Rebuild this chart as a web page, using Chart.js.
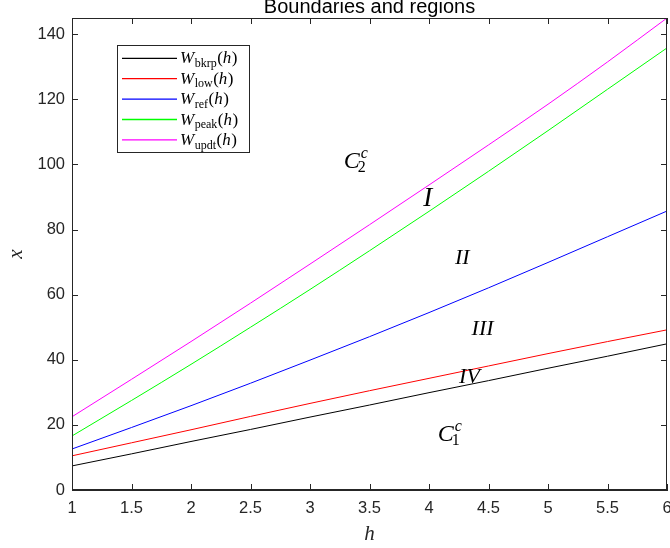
<!DOCTYPE html>
<html>
<head>
<meta charset="utf-8">
<script src="https://cdn.jsdelivr.net/npm/chart.js@4.4.0/dist/chart.umd.min.js"></script>
<style>
  html, body { margin: 0; padding: 0; background: #fff; }
  #wrap { width: 670px; height: 548px; }
</style>
</head>
<body>
<div id="wrap"><canvas id="chart" width="670" height="548"></canvas></div>
<script>
// --- data ---
const hValues = [1, 1.5, 2, 2.5, 3, 3.5, 4, 4.5, 5, 5.5, 6];
const wBkrp = [7.4, 11.1, 14.9, 18.6, 22.4, 26.1, 29.9, 33.6, 37.4, 41.1, 44.9];
const wLow  = [10.5, 14.5, 18.5, 22.6, 26.6, 30.5, 34.3, 38.1, 41.9, 45.6, 49.2];
const wRef  = [12.6, 19.2, 25.9, 32.8, 39.9, 47.1, 54.5, 62.1, 69.9, 77.8, 85.7];
const wPeak = [16.6, 27.5, 38.6, 50.0, 61.6, 73.5, 85.6, 97.9, 110.4, 123.1, 135.8];
const wUpdt = [22.5, 34.0, 45.6, 57.4, 69.4, 81.5, 93.7, 106.0, 118.5, 131.5, 145.0];

const seriesSubs = ["bkrp", "low", "ref", "peak", "updt"];
const seriesColors = ["#000000", "#ff0000", "#0000ff", "#00ff00", "#ff00ff"];
const xTickLabels = ["1", "1.5", "2", "2.5", "3", "3.5", "4", "4.5", "5", "5.5", "6"];
const yTickLabels = ["0", "20", "40", "60", "80", "100", "120", "140"];

// region labels: text, subscript, superscript, h, x, font size
const regionLabels = [
  { text: "C", sub: "2", sup: "c", h: 3.35, x: 100.8, size: 24 },
  { text: "I", h: 3.99, x: 89.4, size: 27 },
  { text: "II", h: 4.28, x: 71.3, size: 22 },
  { text: "III", h: 4.45, x: 49.5, size: 22 },
  { text: "IV", h: 4.34, x: 34.7, size: 22 },
  { text: "C", sub: "1", sup: "c", h: 4.14, x: 16.9, size: 24 }
];

const serif = "'Liberation Serif', 'DejaVu Serif', serif";
const sans = "'Liberation Sans', Arial, sans-serif";
const axisColor = "#262626";

const allSeries = [wBkrp, wLow, wRef, wPeak, wUpdt];
const datasets = allSeries.map((arr, i) => ({
  label: "W_" + seriesSubs[i] + "(h)",
  data: hValues.map((h, j) => ({ x: h, y: arr[j] })),
  borderColor: seriesColors[i],
  borderWidth: 1,
  pointRadius: 0,
  fill: false,
  cubicInterpolationMode: "monotone"
}));

function drawW(ctx, x, y, sub, size) {
  ctx.textAlign = "left";
  ctx.textBaseline = "alphabetic";
  ctx.font = "italic " + size + "px " + serif;
  ctx.fillText("W", x, y);
  x += ctx.measureText("W").width + 0.5;
  const s = Math.round(size * 0.7);
  ctx.font = s + "px " + serif;
  ctx.fillText(sub, x, y + size * 0.22);
  x += ctx.measureText(sub).width + 0.5;
  ctx.font = size + "px " + serif;
  ctx.fillText("(", x, y);
  x += ctx.measureText("(").width;
  ctx.font = "italic " + size + "px " + serif;
  ctx.fillText("h", x, y);
  x += ctx.measureText("h").width + 0.5;
  ctx.font = size + "px " + serif;
  ctx.fillText(")", x, y);
}

const decorPlugin = {
  id: "decor",
  afterDatasetsDraw(chart) {
    const ctx = chart.ctx;
    const a = chart.chartArea;
    const xs = chart.scales.x, ys = chart.scales.y;
    ctx.save();

    // box + inward ticks
    ctx.strokeStyle = axisColor;
    ctx.lineWidth = 1;
    ctx.strokeRect(Math.round(a.left) + 0.5, Math.round(a.top) + 0.5,
      Math.round(a.right - a.left) - 1, Math.round(a.bottom - a.top) - 1);
    const tl = 6;
    ctx.beginPath();
    xs.ticks.forEach(t => {
      const px = Math.round(xs.getPixelForValue(t.value)) + 0.5;
      ctx.moveTo(px, a.bottom); ctx.lineTo(px, a.bottom - tl);
      ctx.moveTo(px, a.top); ctx.lineTo(px, a.top + tl);
    });
    ys.ticks.forEach(t => {
      const py = Math.round(ys.getPixelForValue(t.value)) + 0.5;
      ctx.moveTo(a.left, py); ctx.lineTo(a.left + tl, py);
      ctx.moveTo(a.right, py); ctx.lineTo(a.right - tl, py);
    });
    ctx.stroke();

    // title
    ctx.fillStyle = "#000";
    ctx.font = "20px " + sans;
    ctx.textAlign = "center";
    ctx.textBaseline = "alphabetic";
    ctx.fillText("Boundaries and regions", (a.left + a.right) / 2, 13);

    // axis titles
    ctx.font = "italic 21px " + serif;
    ctx.fillStyle = axisColor;
    ctx.fillText("h", (a.left + a.right) / 2, 540);
    ctx.save();
    ctx.translate(22, (a.top + a.bottom) / 2);
    ctx.rotate(-Math.PI / 2);
    ctx.fillText("x", 0, 0);
    ctx.restore();

    // legend
    const lx = 117, ly = 45, lw = 132, lh = 107;
    ctx.fillStyle = "#fff";
    ctx.fillRect(lx, ly, lw, lh);
    ctx.strokeStyle = axisColor;
    ctx.strokeRect(lx + 0.5, ly + 0.5, lw, lh);
    chart.data.datasets.forEach((ds, i) => {
      const rowY = 58.3 + i * 20.4;
      ctx.strokeStyle = ds.borderColor;
      ctx.lineWidth = 1.3;
      ctx.beginPath();
      ctx.moveTo(122, rowY);
      ctx.lineTo(177, rowY);
      ctx.stroke();
      ctx.fillStyle = "#000";
      drawW(ctx, 180, rowY + 5, seriesSubs[i], 17);
    });

    // region labels
    ctx.fillStyle = "#000";
    regionLabels.forEach(r => {
      const px = xs.getPixelForValue(r.h);
      const py = ys.getPixelForValue(r.x);
      ctx.textBaseline = "middle";
      ctx.textAlign = "center";
      ctx.font = "italic " + r.size + "px " + serif;
      ctx.fillText(r.text, px, py);
      if (r.sub) {
        const s = Math.round(r.size * 0.68);
        ctx.textAlign = "left";
        ctx.font = s + "px " + serif;
        ctx.fillText(r.sub, px + 6, py + 6);
        ctx.font = "italic " + s + "px " + serif;
        ctx.fillText(r.sup, px + 9, py - 8);
      }
    });
    ctx.restore();
  }
};

new Chart(document.getElementById("chart"), {
  type: "line",
  data: { datasets: datasets },
  options: {
    responsive: false,
    animation: false,
    devicePixelRatio: 1,
    layout: { padding: { top: 18, right: 3, bottom: 0, left: 0 } },
    plugins: { legend: { display: false }, title: { display: false }, tooltip: { enabled: false } },
    scales: {
      x: {
        type: "linear",
        min: 1, max: 6,
        grid: { display: false, drawTicks: false },
        border: { display: true, color: axisColor },
        ticks: {
          stepSize: 0.5, includeBounds: false, maxRotation: 0, autoSkip: false,
          color: axisColor, font: { family: sans, size: 16.5 }, padding: 9,
          callback: (v) => xTickLabels[Math.round((v - 1) * 2)]
        },
        afterFit: (s) => { s.height = 58; s.paddingLeft = 0; s.paddingRight = 0; }
      },
      y: {
        type: "linear",
        min: 0, max: 145,
        grid: { display: false, drawTicks: false },
        border: { display: true, color: axisColor },
        ticks: {
          stepSize: 20, includeBounds: false,
          color: axisColor, font: { family: sans, size: 16.5 }, padding: 7,
          callback: (v) => yTickLabels[Math.round(v / 20)]
        },
        afterFit: (s) => { s.width = 72; s.paddingTop = 0; s.paddingBottom = 0; }
      }
    }
  },
  plugins: [decorPlugin]
});
</script>
</body>
</html>
